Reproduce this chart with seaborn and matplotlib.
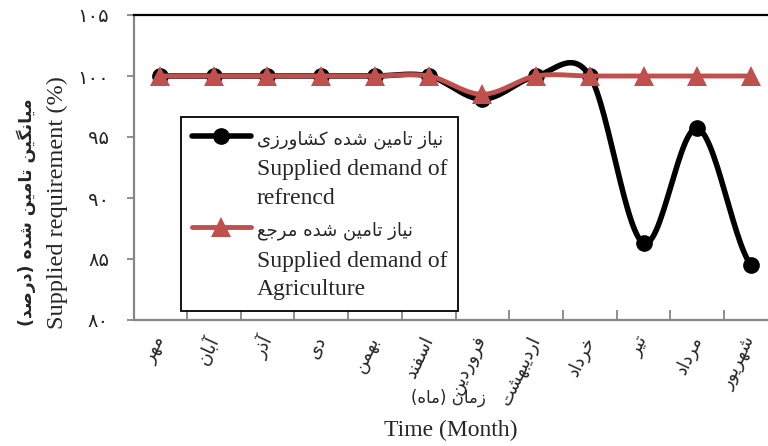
import numpy as np
import matplotlib
matplotlib.use('Agg')
import matplotlib.pyplot as plt
import seaborn as sns
from matplotlib.lines import Line2D

# data
months = ['مهر', 'آبان', 'آذر', 'دی', 'بهمن', 'اسفند',
          'فروردین', 'اردیبهشت', 'خرداد', 'تیر', 'مرداد', 'شهریور']
agriculture = [100, 100, 100, 100, 100, 100, 98.1, 100, 100, 86.3, 95.7, 84.5]
reference = [100, 100, 100, 100, 100, 100, 98.5, 100, 100, 100, 100, 100]
y_ticks = [80, 85, 90, 95, 100, 105]
y_tick_labels = ['۸۰', '۸۵', '۹۰', '۹۵', '۱۰۰', '۱۰۵']

label_agri_fa = 'نیاز تامین شده کشاورزی'
label_agri_en = 'Supplied demand of\nrefrencd'
label_ref_fa = 'نیاز تامین شده مرجع'
label_ref_en = 'Supplied demand of\nAgriculture'
ylabel_fa = 'میانگین تامین شده (درصد)'
ylabel_en = 'Supplied requirement (%)'
xlabel_fa = 'زمان (ماه)'
xlabel_en = 'Time (Month)'

RED = '#C0504D'
GRAY = '#868686'

# matplotlib has no arabic shaping, so pick presentation forms by hand
DUAL = {'ب': 0xFE8F, 'ت': 0xFE95, 'ج': 0xFE9D, 'خ': 0xFEA5, 'س': 0xFEB1,
        'ش': 0xFEB5, 'ص': 0xFEB9, 'ع': 0xFEC9, 'ف': 0xFED1, 'ل': 0xFEDD,
        'م': 0xFEE1, 'ن': 0xFEE5, 'ه': 0xFEE9, 'ی': 0xFBFC, 'ک': 0xFB8E,
        'گ': 0xFB92}
RIGHT = {'ا': 0xFE8D, 'آ': 0xFE81, 'د': 0xFEA9, 'ذ': 0xFEAB, 'ر': 0xFEAD,
         'ز': 0xFEAF, 'و': 0xFEED}


def fa(text):
    """Shape persian text and put it in visual (left to right) order."""
    out = []
    for i, ch in enumerate(text):
        prev = text[i - 1] if i > 0 else ''
        nxt = text[i + 1] if i + 1 < len(text) else ''
        if ch in DUAL:
            jp = prev in DUAL
            jn = nxt in DUAL or nxt in RIGHT
            form = 3 if (jp and jn) else 1 if jp else 2 if jn else 0
            out.append(chr(DUAL[ch] + form))
        elif ch in RIGHT:
            out.append(chr(RIGHT[ch] + (1 if prev in DUAL else 0)))
        else:
            out.append(ch)
    vis = ''.join(reversed(out))
    return vis.translate(str.maketrans('()', ')('))


def smooth(values, n=30):
    """Catmull-Rom curve through the points, like Excel's smoothed line."""
    p = np.concatenate([[values[0]], values, [values[-1]]]).astype(float)
    xs, ys = [], []
    t = np.linspace(0, 1, n, endpoint=False)
    for i in range(len(values) - 1):
        p0, p1, p2, p3 = p[i], p[i + 1], p[i + 2], p[i + 3]
        ys.append(0.5 * (2 * p1 + (p2 - p0) * t + (2 * p0 - 5 * p1 + 4 * p2 - p3) * t ** 2
                         + (3 * p1 - p0 - 3 * p2 + p3) * t ** 3))
        xs.append(i + t)
    xs.append([len(values) - 1])
    ys.append([values[-1]])
    return np.concatenate(xs), np.concatenate(ys)


sns.set_theme(style='white')
plt.rcParams['font.family'] = ['Liberation Serif', 'DejaVu Sans']

fig = plt.figure(figsize=(7.68, 4.46), dpi=100)
ax = fig.add_axes([134 / 768, 126 / 446, 634 / 768, 305 / 446])

x = np.arange(len(months))
sx, sy_agri = smooth(agriculture)
_, sy_ref = smooth(reference)

sns.lineplot(x=sx, y=sy_agri, ax=ax, color='black', lw=4, sort=False,
             estimator=None, zorder=2)
ax.plot(x, agriculture, 'o', color='black', ms=11, zorder=3)
sns.lineplot(x=sx, y=sy_ref, ax=ax, color=RED, lw=3.5, sort=False,
             estimator=None, zorder=4)
ax.plot(x, reference, '^', color=RED, ms=14, mew=0, zorder=5)

ax.set_xlim(-0.484, 11.316)
ax.set_ylim(80, 105)

ax.set_yticks(y_ticks)
ax.set_yticklabels(y_tick_labels, family='DejaVu Sans', fontsize=14)
ax.set_xticks(x)
ax.set_xticklabels([fa(m) for m in months], family='DejaVu Sans', fontsize=13,
                   rotation=65, ha='right', va='center', rotation_mode='anchor')
ax.set_xticks(np.arange(0.5, len(months) - 1, 1), minor=True)
ax.tick_params(axis='x', which='major', length=0, pad=12)
ax.tick_params(axis='x', which='minor', direction='in', length=7, width=1.3,
               color=GRAY, bottom=True)
ax.tick_params(axis='y', direction='out', length=5, width=1.3, color=GRAY,
               pad=13, left=True)

for side in ['left', 'bottom']:
    ax.spines[side].set_color(GRAY)
    ax.spines[side].set_linewidth(1.6)
ax.spines['top'].set_color('black')
ax.spines['top'].set_linewidth(1.6)
ax.spines['right'].set_visible(False)
ax.set_xlabel('')
ax.set_ylabel('')

# axis titles, two lines each
fig.text(26 / 768, 1 - 212 / 446, fa(ylabel_fa), rotation=90, ha='center',
         va='center', family='DejaVu Sans', fontweight='bold', fontsize=12.5)
fig.text(57 / 768, 1 - 203 / 446, ylabel_en, rotation=90, ha='center',
         va='center', fontsize=17.5)
fig.text(448 / 768, 1 - 398 / 446, fa(xlabel_fa), ha='center', va='center',
         family='DejaVu Sans', fontsize=12)
fig.text(451 / 768, 1 - 430 / 446, xlabel_en, ha='center', va='center',
         fontsize=17)

# legend: persian line next to the handle, english lines below it
blank = Line2D([], [], color='none')
handles = [Line2D([], [], color='black', lw=4, marker='o', ms=11),
           blank,
           Line2D([], [], color=RED, lw=3.5, marker='^', ms=14, mew=0),
           blank]
labels = [fa(label_agri_fa), label_agri_en, fa(label_ref_fa), label_ref_en]
leg = fig.legend(handles, labels, loc='upper left',
                 bbox_to_anchor=(181 / 768, 1 - 117 / 446), borderaxespad=0,
                 fontsize=17, handlelength=2.5, handletextpad=0.25,
                 labelspacing=0.45, borderpad=0.45, numpoints=1,
                 fancybox=False, framealpha=1, edgecolor='black')
leg.get_frame().set_linewidth(1.3)
for i, txt in enumerate(leg.get_texts()):
    if i in (0, 2):
        txt.set_family('DejaVu Sans')
        txt.set_fontsize(13)
    else:
        txt.set_linespacing(1.45)

fig.savefig('out.png', dpi=100)
